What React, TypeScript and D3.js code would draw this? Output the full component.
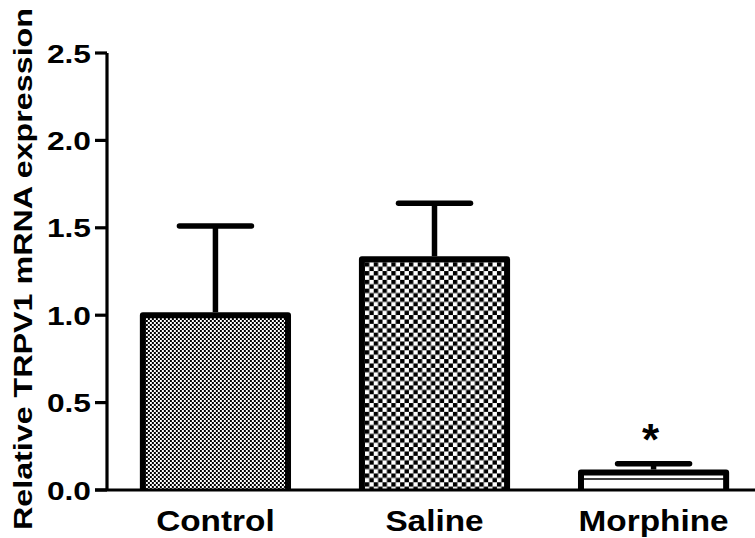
import React from "react";
import * as d3 from "d3";

const categories = ["Control", "Saline", "Morphine"];
const means = [1.0, 1.32, 0.1];
const sems = [0.51, 0.32, 0.05];
const yTicks = [0, 0.5, 1.0, 1.5, 2.0, 2.5];
const yTitle = "Relative TRPV1 mRNA expression";
const significance = ["", "", "*"];
const patterns = ["fineChecker", "coarseChecker", "hLines"];

const W = 755;
const H = 538;
const FONT = "'Liberation Sans', Arial, sans-serif";

export default function App() {
  const y = d3.scaleLinear().domain([0, 2.5]).range([490, 53]);
  const x = d3
    .scaleBand<string>()
    .domain(categories)
    .range([107, 762])
    .paddingInner(0.31)
    .paddingOuter(0.15);
  const axisX = 107;
  const bw = x.bandwidth();
  const sw = 6;

  return (
    <svg
      width={W}
      height={H}
      style={{ position: "absolute", left: 0, top: 0, background: "#fff" }}
      fontFamily={FONT}
      fontWeight="bold"
    >
      <defs>
        <pattern id="fineChecker" patternUnits="userSpaceOnUse" width={4} height={4} x={x("Control")! + sw} y={0}>
          <rect width={4} height={4} fill="#fff" />
          <rect x={0} y={0} width={2} height={2} fill="#000" />
          <rect x={2} y={2} width={2} height={2} fill="#000" />
        </pattern>
        <pattern id="coarseChecker" patternUnits="userSpaceOnUse" width={8.8} height={8.8} x={x("Saline")! + sw} y={y(means[1]) + sw / 2}>
          <rect width={8.8} height={8.8} fill="#fff" />
          <rect x={0} y={0} width={4.4} height={4.4} fill="#000" />
          <rect x={4.4} y={4.4} width={4.4} height={4.4} fill="#000" />
        </pattern>
        <pattern id="hLines" patternUnits="userSpaceOnUse" width={10} height={12} x={0} y={0}>
          <rect width={10} height={12} fill="#fff" />
          <line x1={0} x2={10} y1={11} y2={11} stroke="#000" strokeWidth={1.5} />
        </pattern>
      </defs>

      {/* bars */}
      {categories.map((c, i) => {
        const x0 = x(c)! + sw / 2;
        const x1 = x(c)! + bw - sw / 2;
        const top = y(means[i]);
        const base = y(0);
        return (
          <g key={c}>
            <rect x={x0} y={top} width={x1 - x0} height={base - top} fill={`url(#${patterns[i]})`} />
            <path
              d={`M${x0},${base} V${top} H${x1} V${base}`}
              fill="none"
              stroke="#000"
              strokeWidth={sw}
              strokeLinejoin="round"
            />
          </g>
        );
      })}

      {/* error bars */}
      {categories.map((c, i) => {
        const cx = x(c)! + bw / 2;
        const top = y(means[i] + sems[i]);
        return (
          <g key={c + "-err"} stroke="#000" strokeWidth={5.5} strokeLinecap="round">
            <line x1={cx} x2={cx} y1={y(means[i]) - sw / 2} y2={top} strokeLinecap="butt" />
            <line x1={cx - 36} x2={cx + 36} y1={top} y2={top} />
          </g>
        );
      })}

      {/* significance marks */}
      {categories.map((c, i) =>
        significance[i] ? (
          <text
            key={c + "-sig"}
            x={x(c)! + bw / 2 - 3}
            y={y(means[i] + sems[i]) - 9}
            textAnchor="middle"
            fontSize={44}
            fill="#000"
          >
            {significance[i]}
          </text>
        ) : null
      )}

      {/* y axis */}
      <line x1={axisX} x2={axisX} y1={y(2.5)} y2={y(0)} stroke="#000" strokeWidth={3.2} />
      {yTicks.map((t) => (
        <g key={t}>
          <line x1={axisX - 12} x2={axisX} y1={y(t)} y2={y(t)} stroke="#000" strokeWidth={3.2} />
          <text
            transform={`translate(91, ${y(t) + 9.5}) scale(1.22, 1)`}
            textAnchor="end"
            fontSize={26}
            fill="#000"
          >
            {d3.format(".1f")(t)}
          </text>
        </g>
      ))}

      {/* x axis baseline */}
      <line x1={axisX - 12} x2={W} y1={y(0)} y2={y(0)} stroke="#000" strokeWidth={3.2} />

      {/* x labels */}
      {categories.map((c) => (
        <text
          key={c + "-lab"}
          transform={`translate(${x(c)! + bw / 2}, 531) scale(1.15, 1)`}
          textAnchor="middle"
          fontSize={29}
          fill="#000"
        >
          {c}
        </text>
      ))}

      {/* y title */}
      <text
        transform={`translate(32, 269) rotate(-90)`}
        textAnchor="middle"
        fontSize={26}
        fill="#000"
        textLength={522}
        lengthAdjust="spacingAndGlyphs"
      >
        {yTitle}
      </text>
    </svg>
  );
}
